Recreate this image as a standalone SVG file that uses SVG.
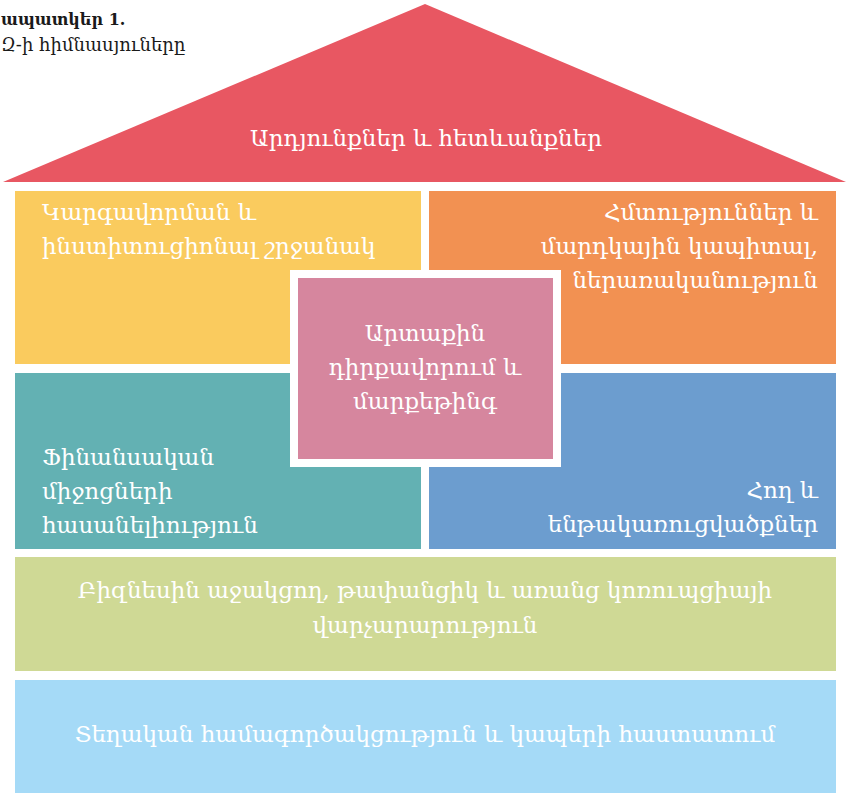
<svg xmlns="http://www.w3.org/2000/svg" width="846" height="793" viewBox="0 0 846 793">
<style>
.t{font-family:"DejaVu Serif","Noto Serif",serif;font-size:23px;fill:#ffffff}
.m{text-anchor:middle}
.e{text-anchor:end}
.ttl{font-family:"DejaVu Serif","Noto Serif",serif;fill:#1a1a1a}
</style>
<rect width="846" height="793" fill="#ffffff"/>
<g id="title">
<text class="ttl" x="1" y="25" font-size="16" font-weight="bold">ապատկեր 1.</text>
<text class="ttl" x="1" y="51" font-size="18">Զ-ի հիմնասյուները</text>
</g>
<g id="roof">
<polygon points="425,4 3,182 846,182" fill="#E85762"/>
<text class="t m" x="426" y="146">Արդյունքներ և հետևանքներ</text>
</g>
<g id="regulatory">
<rect x="15" y="191" width="406" height="173" fill="#FACB5E"/>
<text class="t" x="42" y="220">Կարգավորման և</text>
<text class="t" x="42" y="254">ինստիտուցիոնալ շրջանակ</text>
</g>
<g id="skills">
<rect x="429" y="191" width="407" height="173" fill="#F29152"/>
<text class="t e" x="818" y="220">Հմտություններ և</text>
<text class="t e" x="818" y="254">մարդկային կապիտալ,</text>
<text class="t e" x="818" y="288">ներառականություն</text>
</g>
<g id="finance">
<rect x="15" y="373" width="406" height="176" fill="#63B1B3"/>
<text class="t" x="42" y="465">Ֆինանսական</text>
<text class="t" x="42" y="499">միջոցների</text>
<text class="t" x="42" y="533">հասանելիություն</text>
</g>
<g id="land">
<rect x="429" y="373" width="407" height="176" fill="#6C9DCF"/>
<text class="t e" x="818" y="498">Հող և</text>
<text class="t e" x="818" y="532">ենթակառուցվածքներ</text>
</g>
<g id="marketing">
<rect x="290" y="270" width="271" height="197" fill="#ffffff"/>
<rect x="298" y="278" width="255" height="181" fill="#D6869E"/>
<text class="t m" x="425" y="341">Արտաքին</text>
<text class="t m" x="425" y="375">դիրքավորում և</text>
<text class="t m" x="425" y="409">մարքեթինգ</text>
</g>
<g id="governance">
<rect x="15" y="557" width="821" height="114" fill="#CFD995"/>
<text class="t m" x="425" y="598">Բիզնեսին աջակցող, թափանցիկ և առանց կոռուպցիայի</text>
<text class="t m" x="425" y="633">վարչարարություն</text>
</g>
<g id="cooperation">
<rect x="15" y="680" width="821" height="113" fill="#A5DAF7"/>
<text class="t m" x="425" y="742">Տեղական համագործակցություն և կապերի հաստատում</text>
</g>
<g id="connectors"></g>
</svg>
